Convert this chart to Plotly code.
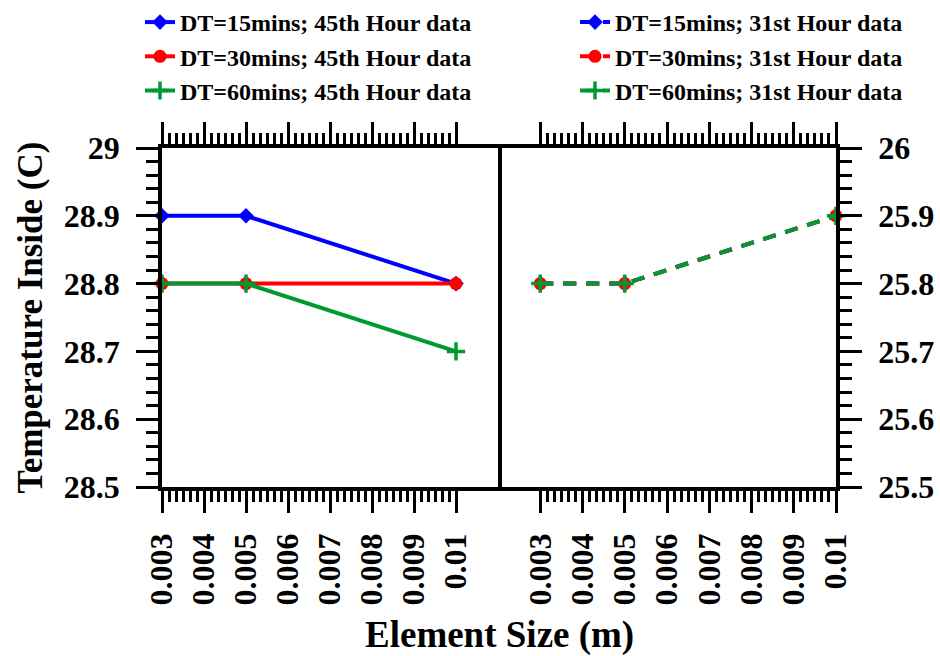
import numpy as np
import plotly.graph_objects as go

# ---------------- data ----------------
element_size = [0.003, 0.005, 0.01]

h45_dt15 = [28.9, 28.9, 28.8]
h45_dt30 = [28.8, 28.8, 28.8]
h45_dt60 = [28.8, 28.8, 28.7]

h31_dt15 = [25.8, 25.8, 25.9]
h31_dt30 = [25.8, 25.8, 25.9]
h31_dt60 = [25.8, 25.8, 25.9]

x_tick_vals = [0.003, 0.004, 0.005, 0.006, 0.007, 0.008, 0.009, 0.01]
x_tick_text = ["0.003", "0.004", "0.005", "0.006", "0.007", "0.008", "0.009", "0.01"]
y45_tick_vals = [28.5, 28.6, 28.7, 28.8, 28.9, 29.0]
y45_tick_text = ["28.5", "28.6", "28.7", "28.8", "28.9", "29"]
y31_tick_vals = [25.5, 25.6, 25.7, 25.8, 25.9, 26.0]
y31_tick_text = ["25.5", "25.6", "25.7", "25.8", "25.9", "26"]

names_45 = ["DT=15mins; 45th Hour data", "DT=30mins; 45th Hour data", "DT=60mins; 45th Hour data"]
names_31 = ["DT=15mins; 31st Hour data", "DT=30mins; 31st Hour data", "DT=60mins; 31st Hour data"]

# ---------------- style ----------------
FONT = "Liberation Serif"
BLUE, RED, GREEN = "#0000FF", "#FF0000", "rgb(0,153,51)"
colors = [BLUE, RED, GREEN]
symbols = ["diamond", "circle", "cross-thin"]
msizes = [12, 13, 13]

series45 = [h45_dt15, h45_dt30, h45_dt60]
series31 = [h31_dt15, h31_dt30, h31_dt60]

fig = go.Figure()
for i in range(3):
    mk = dict(symbol=symbols[i], size=msizes[i], color=colors[i])
    if symbols[i] == "cross-thin":
        mk["line"] = dict(color=colors[i], width=3.5)
    fig.add_trace(go.Scatter(
        x=element_size, y=series45[i], name=names_45[i], mode="lines+markers",
        line=dict(color=colors[i], width=4), marker=mk, cliponaxis=False,
        xaxis="x", yaxis="y", legend="legend", legendgroup="a%d" % i))
for i in range(3):
    mk = dict(symbol=symbols[i], size=msizes[i], color=colors[i])
    if symbols[i] == "cross-thin":
        mk["line"] = dict(color=colors[i], width=3.5)
    fig.add_trace(go.Scatter(
        x=element_size, y=series31[i], name=names_31[i], mode="lines+markers",
        line=dict(color=colors[i], width=4, dash="13px,10px"), marker=mk, cliponaxis=False,
        xaxis="x2", yaxis="y2", legend="legend2", legendgroup="b%d" % i))

minor_x = np.linspace(0.003, 0.01, 43)
split = 336 / 674

tickfont = dict(family=FONT, size=32, color="black", weight="bold")
common_x = dict(tickmode="array", tickvals=x_tick_vals, ticktext=x_tick_text,
                ticks="outside", ticklen=22, tickwidth=3, tickcolor="black",
                showline=True, linewidth=3.5, linecolor="black", mirror="ticks",
                tickangle=-90, tickfont=tickfont, showgrid=False, zeroline=False,
                automargin=False, ticklabelstandoff=8,
                minor=dict(tickmode="array", tickvals=minor_x, ticks="outside",
                           ticklen=11, tickwidth=3, tickcolor="black", showgrid=False))
common_y = dict(tickmode="array", ticks="outside", ticklen=22, tickwidth=3, tickcolor="black",
                showline=True, linewidth=3.5, linecolor="black",
                tickfont=tickfont, showgrid=False, zeroline=False, automargin=False,
                ticklabelstandoff=10,
                minor=dict(dtick=0.02, tick0=28.5, ticks="outside", ticklen=12,
                           tickwidth=3, tickcolor="black", showgrid=False))

legfont = dict(family=FONT, size=24, color="black", weight="bold")

fig.update_layout(
    template="none",
    width=940, height=656,
    margin=dict(l=162, r=104, t=148, b=169, autoexpand=False),
    paper_bgcolor="white", plot_bgcolor="white",
    font=dict(family=FONT, color="black"),
    xaxis=dict(domain=[0, split], range=[0.003, 0.011], anchor="y", **common_x),
    xaxis2=dict(domain=[split, 1], range=[0.002, 0.01], anchor="y2", **common_x),
    yaxis=dict(domain=[0, 1], range=[28.5, 29.0], anchor="x", side="left", mirror=True,
               tickvals=y45_tick_vals, ticktext=y45_tick_text, **common_y),
    yaxis2=dict(domain=[0, 1], range=[25.5, 26.0], anchor="x2", side="right", mirror=False,
                tickvals=y31_tick_vals, ticktext=y31_tick_text, **common_y),
    legend=dict(xref="container", yref="container", x=140 / 940, y=1 + 10 / 656,
                xanchor="left", yanchor="top", bgcolor="rgba(0,0,0,0)",
                font=legfont, tracegroupgap=0, traceorder="normal"),
    legend2=dict(xref="container", yref="container", x=575 / 940, y=1 + 10 / 656,
                 xanchor="left", yanchor="top", bgcolor="rgba(0,0,0,0)",
                 font=legfont, tracegroupgap=0, traceorder="normal"),
    showlegend=True,
    annotations=[
        dict(text="Element Size (m)", xref="paper", yref="paper",
             x=0.5, y=-148 / 339.0,
             xanchor="center", yanchor="middle", showarrow=False,
             font=dict(family=FONT, size=37, color="black", weight="bold")),
        dict(text="Temperature Inside (C)", xref="paper", yref="paper",
             x=(30 - 162) / 674.0, y=0.5, textangle=-90,
             xanchor="center", yanchor="middle", showarrow=False,
             font=dict(family=FONT, size=35, color="black", weight="bold")),
    ],
)

fig.write_html("out.html")
